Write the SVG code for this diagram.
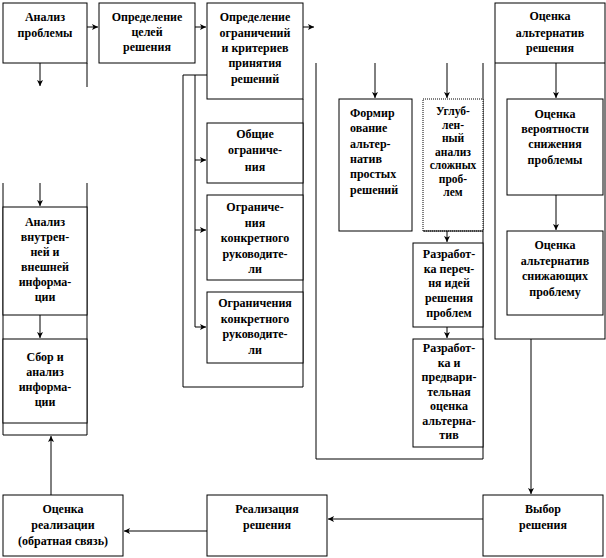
<svg xmlns="http://www.w3.org/2000/svg" width="606" height="558" viewBox="0 0 606 558">
<style>
.b{fill:#fff;stroke:#000;stroke-width:1}
.f{fill:none;stroke:#000;stroke-width:1}
.c{fill:none;stroke:#000;stroke-width:1;marker-end:url(#ah)}
text{font-family:"Liberation Serif","Times New Roman",serif;font-weight:bold;font-size:12px;fill:#000;text-anchor:middle}
.l{text-anchor:start}
.s{font-size:11.5px}
</style>
<defs>
<marker id="ah" viewBox="0 0 6 6" refX="6" refY="3" markerWidth="6" markerHeight="6" markerUnits="userSpaceOnUse" orient="auto">
<path d="M0,0 L6,3 L0,6 L1.5,3 z" fill="#000"/>
</marker>
</defs>
<rect width="606" height="558" fill="#fff"/>

<g id="frames">
<path class="f" d="M87,63 V87 M87,183 V435 H3 V183"/>
<path class="f" d="M207,75 H183 V387 H303 V99"/>
<path class="f" d="M316,63 V459 H483 V63"/>
<rect class="f" x="495" y="3" width="110" height="336"/>
<line class="f" x1="495" y1="63" x2="605" y2="63"/>
</g>

<g id="connectors">
<path class="c" d="M87,27 H98"/>
<path class="c" d="M195,27 H206"/>
<path class="c" d="M303,27 H314"/>
<path class="c" d="M40,63 V86"/>
<path class="c" d="M40,183 V206"/>
<path class="c" d="M40,315 V338"/>
<path class="c" d="M51,495 V436"/>
<path class="f" d="M195,75 V327"/>
<path class="c" d="M195,160 H206"/>
<path class="c" d="M195,230 H206"/>
<path class="c" d="M195,327 H206"/>
<path class="c" d="M375,63 V98"/>
<path class="c" d="M447,63 V98"/>
<path class="c" d="M447,231 V242"/>
<path class="c" d="M447,327 V338"/>
<path class="c" d="M556,63 V98"/>
<path class="c" d="M556,195 V230"/>
<path class="c" d="M531,339 V494"/>
<path class="c" d="M483,519 H328"/>
<path class="c" d="M207,531 H124"/>
</g>

<g id="n1"><rect class="b" x="3" y="3" width="84" height="60"/>
<text x="45" y="21">Анализ</text><text x="45" y="37">проблемы</text></g>

<g id="n2"><rect class="b" x="99" y="3" width="96" height="60"/>
<text x="147" y="21">Определение</text><text x="147" y="36">целей</text><text x="147" y="51">решения</text></g>

<g id="n3"><rect class="b" x="207" y="3" width="96" height="96"/>
<text x="255" y="21">Определение</text><text x="255" y="37">ограничений</text><text x="255" y="52">и критериев</text><text x="255" y="67">принятия</text><text x="255" y="83">решений</text></g>

<g id="n4"><text x="550" y="20">Оценка</text><text x="550" y="37">альтернатив</text><text x="550" y="52">решения</text></g>

<g id="n5"><rect class="b" x="207" y="123" width="96" height="60"/>
<text x="255" y="138">Общие</text><text x="255" y="154">ограниче-</text><text x="255" y="171">ния</text></g>

<g id="n6"><rect class="b" x="207" y="195" width="96" height="85"/>
<text x="255" y="211">Ограниче-</text><text x="255" y="227">ния</text><text x="255" y="242">конкретного</text><text x="255" y="258">руководите-</text><text x="255" y="273">ли</text></g>

<g id="n7"><rect class="b" x="207" y="292" width="96" height="71"/>
<text x="255" y="307">Ограничения</text><text x="255" y="323">конкретного</text><text x="255" y="338">руководите-</text><text x="255" y="354">ли</text></g>

<g id="n8"><rect class="b" x="339" y="99" width="73" height="132"/>
<text class="l" x="350" y="117">Формир</text><text class="l" x="350" y="132">ование</text><text class="l" x="350" y="148">альтер-</text><text class="l" x="350" y="163">натив</text><text class="l" x="350" y="178">простых</text><text class="l" x="350" y="194">решений</text></g>

<g id="n9"><rect class="b" x="423" y="99" width="60" height="132" stroke-dasharray="1,1"/>
<line class="f" x1="423" y1="231" x2="483" y2="231"/>
<text class="s" x="453" y="115">Углуб-</text><text class="s" x="453" y="129">лен-</text><text class="s" x="453" y="142">ный</text><text class="s" x="453" y="156">анализ</text><text class="s" x="453" y="169">сложных</text><text class="s" x="453" y="183">проб-</text><text class="s" x="453" y="196">лем</text></g>

<g id="n10"><rect class="b" x="413" y="243" width="70" height="84"/>
<text x="449" y="258">Разработ-</text><text x="449" y="273">ка переч-</text><text x="449" y="287">ня идей</text><text x="449" y="302">решения</text><text x="449" y="317">проблем</text></g>

<g id="n11"><rect class="b" x="413" y="339" width="70" height="108"/>
<text x="449" y="352">Разработ-</text><text x="449" y="367">ка и</text><text x="449" y="381">предвари-</text><text x="449" y="396">тельная</text><text x="449" y="410">оценка</text><text x="449" y="425">альтерна-</text><text x="449" y="439">тив</text></g>

<g id="n12"><rect class="b" x="507" y="99" width="96" height="96"/>
<text x="555" y="118">Оценка</text><text x="555" y="133">вероятности</text><text x="555" y="148">снижения</text><text x="555" y="164">проблемы</text></g>

<g id="n13"><rect class="b" x="507" y="231" width="96" height="84"/>
<text x="555" y="249">Оценка</text><text x="555" y="265">альтернатив</text><text x="555" y="280">снижающих</text><text x="555" y="296">проблему</text></g>

<g id="n14"><rect class="b" x="3" y="207" width="84" height="108"/>
<text x="45" y="226">Анализ</text><text x="45" y="241">внутрен-</text><text x="45" y="256">ней и</text><text x="45" y="271">внешней</text><text x="45" y="286">информа-</text><text x="45" y="301">ции</text></g>

<g id="n15"><rect class="b" x="3" y="339" width="84" height="84"/>
<text x="45" y="361">Сбор и</text><text x="45" y="376">анализ</text><text x="45" y="391">информа-</text><text x="45" y="406">ции</text></g>

<g id="n16"><rect class="b" x="3" y="495" width="120" height="61"/>
<text x="63" y="513">Оценка</text><text x="63" y="529">реализации</text><text x="63" y="545">(обратная связь)</text></g>

<g id="n17"><rect class="b" x="207" y="495" width="120" height="61"/>
<text x="267" y="513">Реализация</text><text x="267" y="529">решения</text></g>

<g id="n18"><rect class="b" x="483" y="495" width="120" height="61"/>
<text x="543" y="513">Выбор</text><text x="543" y="529">решения</text></g>
</svg>
